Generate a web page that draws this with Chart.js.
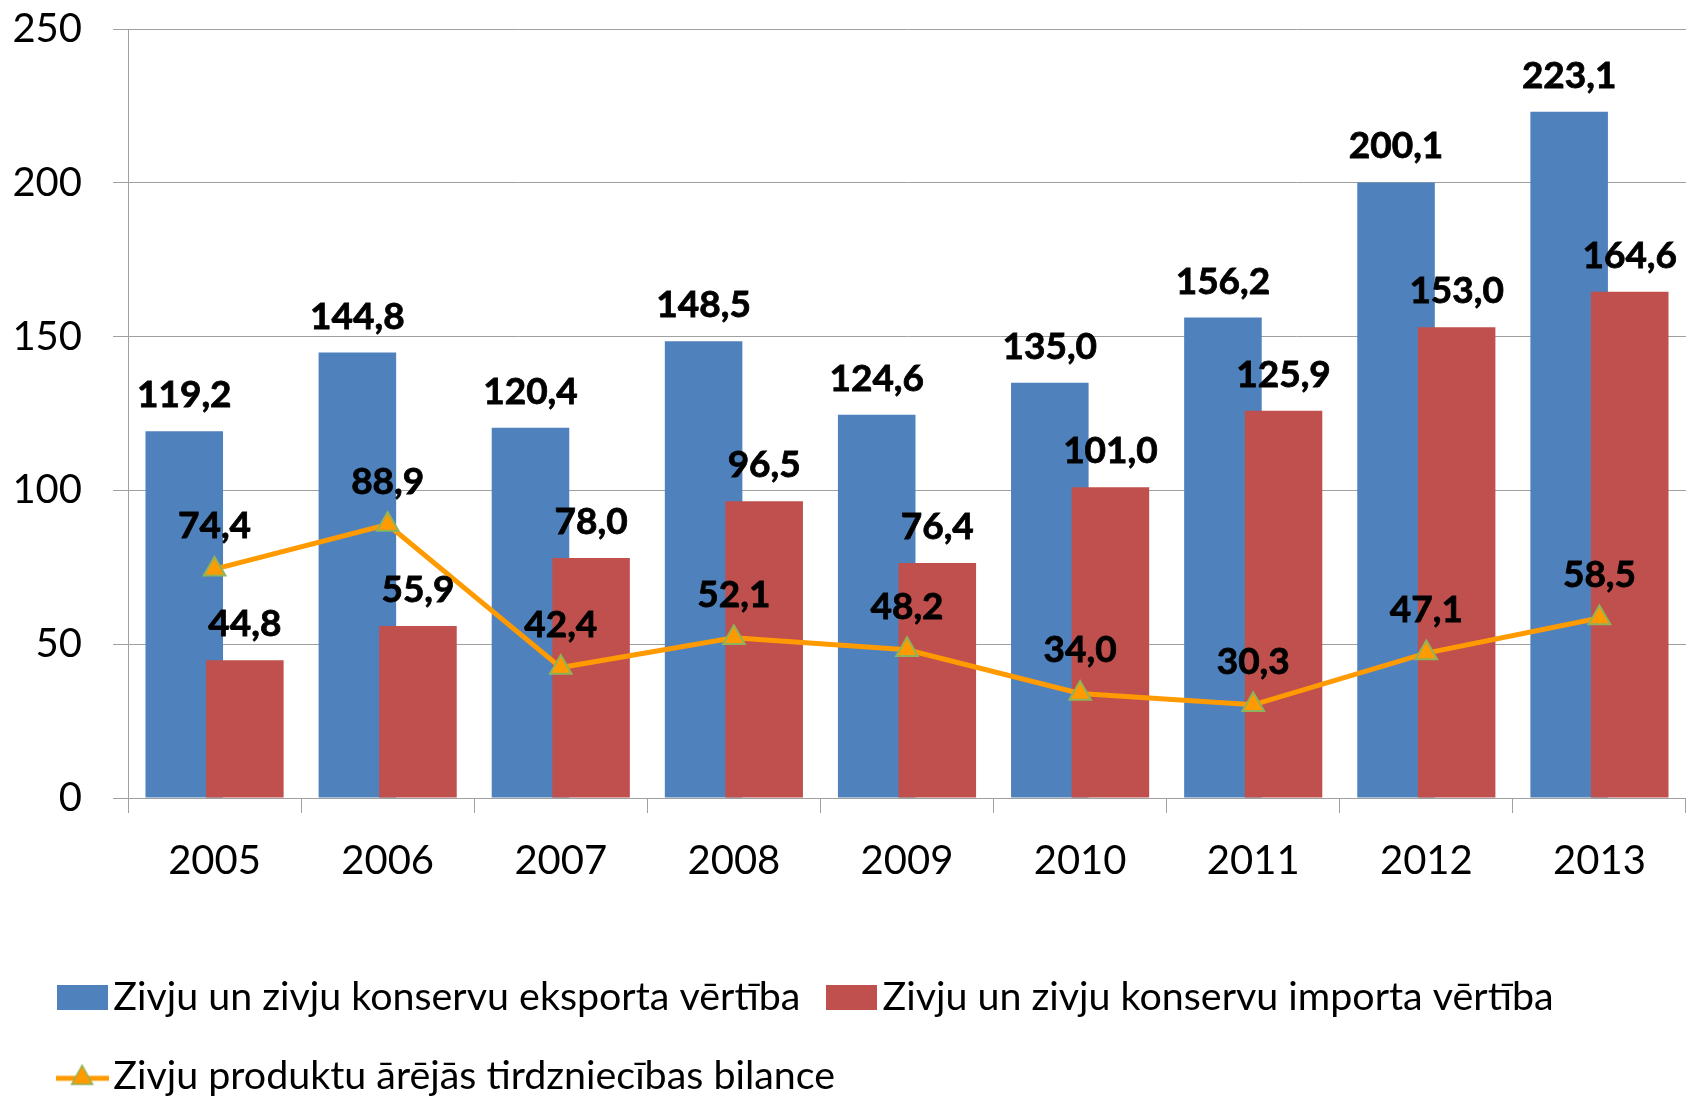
<!DOCTYPE html>
<html>
<head>
<meta charset="utf-8">
<script src="https://cdn.jsdelivr.net/npm/chart.js@4.4.1/dist/chart.umd.min.js"></script>
<style>
html, body { margin: 0; padding: 0; background: #fff; }
</style>
</head>
<body>
<canvas id="chart1" width="1686" height="1097"></canvas>
<script>
years = ['2005', '2006', '2007', '2008', '2009', '2010', '2011', '2012', '2013']
exportVal = [119.2, 144.8, 120.4, 148.5, 124.6, 135.0, 156.2, 200.1, 223.1]
importVal = [44.8, 55.9, 78.0, 96.5, 76.4, 101.0, 125.9, 153.0, 164.6]
balanceVal = [74.4, 88.9, 42.4, 52.1, 48.2, 34.0, 30.3, 47.1, 58.5]
yTicks = [0, 50, 100, 150, 200, 250]
names = [
  'Zivju un zivju konservu eksporta vērtība',
  'Zivju un zivju konservu importa vērtība',
  'Zivju produktu ārējās tirdzniecības bilance'
]

colors = { exp: '#4F81BD', imp: '#C0504D', bal: '#FF9A00', mark: '#8FB35A', grid: '#A0A0A0' }
FONT = 'Lato, "Open Sans", sans-serif'

function fmt(v) {
  return v.toFixed(1).replace('.', ',')
}

// legend icons (excel look: flat box, line with triangle marker)
function boxIcon(color) {
  var c = document.createElement('canvas')
  c.width = 51; c.height = 25
  var g = c.getContext('2d')
  g.fillStyle = color
  g.fillRect(0, 0, 51, 25)
  return c
}
function lineIcon() {
  var c = document.createElement('canvas')
  c.width = 53; c.height = 28
  var g = c.getContext('2d')
  g.strokeStyle = colors.bal
  g.lineWidth = 5
  g.beginPath(); g.moveTo(0, 16); g.lineTo(53, 16); g.stroke()
  g.fillStyle = colors.bal
  g.strokeStyle = colors.mark
  g.lineWidth = 1.5
  g.beginPath(); g.moveTo(26.5, 3); g.lineTo(37, 22); g.lineTo(16, 22); g.closePath()
  g.fill(); g.stroke()
  return c
}
icons = [boxIcon(colors.exp), boxIcon(colors.imp), lineIcon()]

// export bar first, import bar over it, line over both
excelOrder = {
  id: 'excelOrder',
  afterLayout(chart) {
    // legend starts a bit in from the left edge, like the original
    chart.legend.left += 31
  },
  beforeDatasetsDraw(chart) {
    [0, 1, 2].forEach(i => {
      if (chart.isDatasetVisible(i)) chart.getDatasetMeta(i).controller.draw()
    })
    return false
  }
}

valueLabels = {
  id: 'valueLabels',
  afterDraw(chart) {
    var ctx = chart.ctx
    ctx.save()
    ctx.font = 'bold 37px ' + FONT
    ctx.fillStyle = '#000'
    ctx.strokeStyle = '#000'
    ctx.lineWidth = 0.8
    ctx.textAlign = 'center'
    ctx.textBaseline = 'alphabetic'
    chart.data.datasets.forEach((ds, i) => {
      var meta = chart.getDatasetMeta(i)
      var gap = meta.type === 'line' ? 31 : 24
      meta.data.forEach((el, j) => {
        ctx.fillText(fmt(ds.data[j]), el.x, el.y - gap)
        ctx.strokeText(fmt(ds.data[j]), el.x, el.y - gap)
      })
    })
    ctx.restore()
  }
}

var ctx = document.getElementById('chart1').getContext('2d')
var myChart = new Chart(ctx, {
  data: {
    labels: years,
    datasets: [{
      type: 'bar',
      label: names[0],
      data: exportVal,
      backgroundColor: colors.exp,
      categoryPercentage: 0.7,
      barPercentage: 1.28
    }, {
      type: 'bar',
      label: names[1],
      data: importVal,
      backgroundColor: colors.imp,
      categoryPercentage: 0.7,
      barPercentage: 1.28
    }, {
      type: 'line',
      label: names[2],
      data: balanceVal,
      borderColor: colors.bal,
      borderWidth: 5,
      tension: 0,
      pointStyle: 'triangle',
      pointRadius: 12.5,
      pointBackgroundColor: colors.bal,
      pointBorderColor: colors.mark,
      pointBorderWidth: 2
    }]
  },
  options: {
    responsive: false,
    animation: false,
    layout: { autoPadding: false, padding: { left: 0, right: 0, top: 29, bottom: -9 } },
    plugins: {
      tooltip: { enabled: false },
      legend: {
        position: 'bottom',
        align: 'start',
        labels: {
          usePointStyle: true,
          pointStyleWidth: 23,
          padding: 39.6,
          color: '#000',
          font: { family: FONT, size: 39.4 },
          generateLabels: (chart) => chart.data.datasets.map((ds, i) => ({
            text: ds.label,
            pointStyle: icons[i],
            datasetIndex: i,
            hidden: !chart.isDatasetVisible(i),
            fontColor: '#000',
            lineWidth: 0
          }))
        }
      }
    },
    scales: {
      x: {
        grid: { offset: true, drawOnChartArea: false, tickLength: 15, color: colors.grid },
        border: { color: colors.grid },
        ticks: { color: '#000', font: { family: FONT, size: 40 }, padding: 24, maxRotation: 0 },
        afterFit: (s) => { s.height = 140; s.paddingLeft = 0; s.paddingRight = 0 }
      },
      y: {
        min: 0,
        max: 250,
        grid: { color: colors.grid, tickLength: 15 },
        border: { color: colors.grid },
        ticks: { color: '#000', font: { family: FONT, size: 40 }, padding: 31 },
        afterBuildTicks: (s) => { s.ticks = yTicks.map(v => ({ value: v })) },
        afterFit: (s) => { s.width = 128; s.paddingTop = 0; s.paddingBottom = 0 }
      }
    }
  },
  plugins: [excelOrder, valueLabels]
})
</script>
</body>
</html>
